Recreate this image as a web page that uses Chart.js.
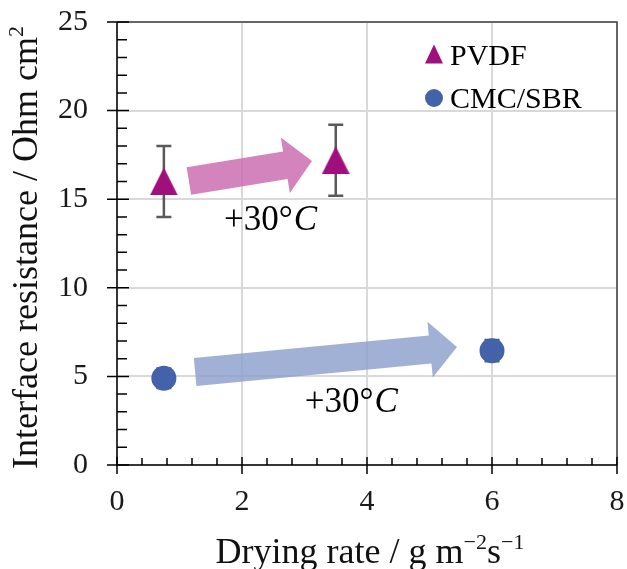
<!DOCTYPE html>
<html><head><meta charset="utf-8">
<script src="https://cdn.jsdelivr.net/npm/chart.js@4.4.0/dist/chart.umd.min.js"></script>
<style>html,body{margin:0;padding:0;background:#fff;}#wrap{width:627px;height:569px;}</style>
</head><body><div id="wrap"><canvas id="c" width="627" height="569"></canvas></div>
<script>
// ---- data ----
const seriesNames = ['PVDF', 'CMC/SBR'];
const pvdfX = [0.75, 3.5];
const pvdfY = [16.0, 17.2];
const pvdfErr = [2.0, 2.0];
const cmcX = [0.75, 6.0];
const cmcY = [4.9, 6.45];
const cmcErr = [0.55, 0.6];
const xTickValues = [0, 2, 4, 6, 8];
const yTickValues = [0, 5, 10, 15, 20, 25];
const xTitleParts = [['Drying rate / g m', false], ['\u22122', true], ['s', false], ['\u22121', true]];
const yTitleParts = [['Interface resistance / Ohm cm', false], ['2', true]];
const annotationText = ['+30\u00B0', 'C'];
// annotations in data coordinates
const arrowPVDF = { from: [1.15, 16.03], to: [3.12, 17.16] };
const arrowCMC = { from: [1.25, 5.25], to: [5.44, 6.66] };
const labelPVDF = [2.45, 13.26];
const labelCMC = [3.74, 2.99];

const COL_PVDF = '#A0107D';
const COL_CMC = '#4462AA';
const FONT = "'Liberation Serif', 'Times New Roman', serif";

// triangle marker (bbox-centred, like the reference)
const tri = document.createElement('canvas');
tri.width = 28; tri.height = 28;
(function(){
  const t = tri.getContext('2d');
  t.fillStyle = COL_PVDF;
  t.beginPath(); t.moveTo(14, 0); t.lineTo(28, 28); t.lineTo(0, 28); t.closePath(); t.fill();
})();

function drawArrow(ctx, xs, ys, a, color) {
  const x1 = xs.getPixelForValue(a.from[0]), y1 = ys.getPixelForValue(a.from[1]);
  const x2 = xs.getPixelForValue(a.to[0]), y2 = ys.getPixelForValue(a.to[1]);
  const dx = x2 - x1, dy = y2 - y1, L = Math.hypot(dx, dy);
  const ux = dx / L, uy = dy / L, nx = -uy, ny = ux;
  const bw = 14, hw = 28, hl = 27;
  const bx = x2 - ux * hl, by = y2 - uy * hl;
  ctx.save();
  ctx.fillStyle = color;
  ctx.beginPath();
  ctx.moveTo(x1 + nx * bw, y1 + ny * bw);
  ctx.lineTo(bx + nx * bw, by + ny * bw);
  ctx.lineTo(bx + nx * hw, by + ny * hw);
  ctx.lineTo(x2, y2);
  ctx.lineTo(bx - nx * hw, by - ny * hw);
  ctx.lineTo(bx - nx * bw, by - ny * bw);
  ctx.lineTo(x1 - nx * bw, y1 - ny * bw);
  ctx.closePath();
  ctx.fill();
  ctx.restore();
}

function partsWidth(ctx, parts, size, supSize) {
  let w = 0;
  parts.forEach(([t, sup]) => { ctx.font = (sup ? supSize : size) + 'px ' + FONT; w += ctx.measureText(t).width; });
  return w;
}
function drawParts(ctx, parts, x, y, size, supSize, raise) {
  let cx = x;
  parts.forEach(([t, sup]) => {
    ctx.font = (sup ? supSize : size) + 'px ' + FONT;
    ctx.fillText(t, cx, sup ? y - raise : y);
    cx += ctx.measureText(t).width;
  });
}

function noPad(s) { s.paddingTop = 0; s.paddingBottom = 0; s.paddingLeft = 0; s.paddingRight = 0; }

const custom = {
  id: 'custom',
  beforeDatasetsDraw(chart) {
    const { ctx, scales: { x, y } } = chart;
    drawArrow(ctx, x, y, arrowPVDF, 'rgba(202,105,174,0.82)');
    drawArrow(ctx, x, y, arrowCMC, 'rgba(140,160,205,0.82)');
    ctx.save();
    ctx.strokeStyle = '#595959';
    ctx.lineWidth = 2.5;
    [[pvdfX, pvdfY, pvdfErr], [cmcX, cmcY, cmcErr]].forEach(([xs, ys, es]) => {
      xs.forEach((xv, i) => {
        const px = x.getPixelForValue(xv);
        const top = y.getPixelForValue(ys[i] + es[i]);
        const bot = y.getPixelForValue(ys[i] - es[i]);
        ctx.beginPath();
        ctx.moveTo(px, top); ctx.lineTo(px, bot);
        ctx.moveTo(px - 7.5, top); ctx.lineTo(px + 7.5, top);
        ctx.moveTo(px - 7.5, bot); ctx.lineTo(px + 7.5, bot);
        ctx.stroke();
      });
    });
    ctx.restore();
  },
  afterDraw(chart) {
    const { ctx, chartArea: ca, scales: { x, y } } = chart;
    ctx.save();
    // frame
    ctx.strokeStyle = '#404040'; ctx.lineWidth = 1.5;
    ctx.beginPath();
    ctx.moveTo(ca.left, ca.top); ctx.lineTo(ca.right, ca.top); ctx.lineTo(ca.right, ca.bottom);
    ctx.stroke();
    ctx.strokeStyle = '#000';
    ctx.beginPath();
    ctx.moveTo(ca.left, ca.top); ctx.lineTo(ca.left, ca.bottom); ctx.lineTo(ca.right, ca.bottom);
    ctx.stroke();
    // ticks
    ctx.lineWidth = 1.5;
    ctx.beginPath();
    yTickValues.forEach(v => { const p = y.getPixelForValue(v); ctx.moveTo(ca.left - 10, p); ctx.lineTo(ca.left + 12, p); });
    for (let v = y.min + 1; v < y.max; v += 1) {
      if (Math.round(v) % 5 === 0) continue;
      const p = y.getPixelForValue(v); ctx.moveTo(ca.left, p); ctx.lineTo(ca.left + 10, p);
    }
    xTickValues.forEach(v => { const p = x.getPixelForValue(v); ctx.moveTo(p, ca.bottom - 8); ctx.lineTo(p, ca.bottom + 9); });
    for (let k = 1; k < 20; k++) {
      if (k % 5 === 0) continue;
      const p = x.getPixelForValue(x.min + k * 0.4); ctx.moveTo(p, ca.bottom); ctx.lineTo(p, ca.bottom - 7);
    }
    ctx.stroke();

    // legend
    const lx = ca.right - 183;
    ctx.fillStyle = COL_PVDF;
    ctx.beginPath(); ctx.moveTo(lx, ca.top + 22.5); ctx.lineTo(lx + 9, ca.top + 41.5); ctx.lineTo(lx - 9, ca.top + 41.5); ctx.closePath(); ctx.fill();
    ctx.fillStyle = COL_CMC;
    ctx.beginPath(); ctx.arc(lx, ca.top + 76, 9, 0, Math.PI * 2); ctx.fill();
    ctx.fillStyle = '#000';
    ctx.font = '30px ' + FONT;
    ctx.textAlign = 'left'; ctx.textBaseline = 'alphabetic';
    ctx.fillText(seriesNames[0], lx + 16, ca.top + 43);
    ctx.fillText(seriesNames[1], lx + 16, ca.top + 86);

    // +30°C labels
    [labelPVDF, labelCMC].forEach(([vx, vy]) => {
      const px = x.getPixelForValue(vx), py = y.getPixelForValue(vy);
      ctx.font = '35px ' + FONT;
      const w1 = ctx.measureText(annotationText[0]).width;
      ctx.font = 'italic 35px ' + FONT;
      const w2 = ctx.measureText(annotationText[1]).width;
      let sx = px - (w1 + w2) / 2;
      ctx.font = '35px ' + FONT;
      ctx.fillText(annotationText[0], sx, py);
      ctx.font = 'italic 35px ' + FONT;
      ctx.fillText(annotationText[1], sx + w1 + 1, py);
    });

    // axis titles
    ctx.fillStyle = '#111';
    const xw = partsWidth(ctx, xTitleParts, 36, 22);
    drawParts(ctx, xTitleParts, (ca.left + ca.right) / 2 + 3 - xw / 2, 563, 36, 22, 14);
    ctx.translate(37, (ca.top + ca.bottom) / 2 + 4);
    ctx.rotate(-Math.PI / 2);
    const yw = partsWidth(ctx, yTitleParts, 36, 22);
    drawParts(ctx, yTitleParts, -yw / 2, 0, 36, 22, 14);
    ctx.restore();
  }
};

new Chart(document.getElementById('c'), {
  type: 'scatter',
  data: {
    datasets: [
      { label: seriesNames[0], data: pvdfX.map((v, i) => ({ x: v, y: pvdfY[i] })), pointStyle: tri,
        pointRadius: 14, pointHoverRadius: 14, backgroundColor: COL_PVDF, borderColor: COL_PVDF },
      { label: seriesNames[1], data: cmcX.map((v, i) => ({ x: v, y: cmcY[i] })), pointStyle: 'circle',
        pointRadius: 12.5, pointHoverRadius: 12.5, borderWidth: 0, backgroundColor: COL_CMC, borderColor: COL_CMC }
    ]
  },
  options: {
    responsive: false, animation: false, events: [],
    layout: { autoPadding: false, padding: { left: 0, right: 10, top: 22, bottom: 0 } },
    plugins: { legend: { display: false }, tooltip: { enabled: false } },
    scales: {
      x: {
        type: 'linear', min: 0, max: 8,
        afterBuildTicks: s => { s.ticks = xTickValues.map(v => ({ value: v })); },
        afterFit: s => { s.height = 104; noPad(s); },
        grid: { color: '#d9d9d9', lineWidth: 2, drawTicks: false },
        border: { display: false },
        ticks: { font: { family: FONT, size: 30 }, color: '#1a1a1a', padding: 19, maxRotation: 0 }
      },
      y: {
        type: 'linear', min: 0, max: 25,
        afterBuildTicks: s => { s.ticks = yTickValues.map(v => ({ value: v })); },
        afterFit: s => { s.width = 117; noPad(s); },
        grid: { color: '#d9d9d9', lineWidth: 2, drawTicks: false },
        border: { display: false },
        ticks: { font: { family: FONT, size: 30 }, color: '#1a1a1a', padding: 29 }
      }
    }
  },
  plugins: [custom]
});
</script></body></html>
